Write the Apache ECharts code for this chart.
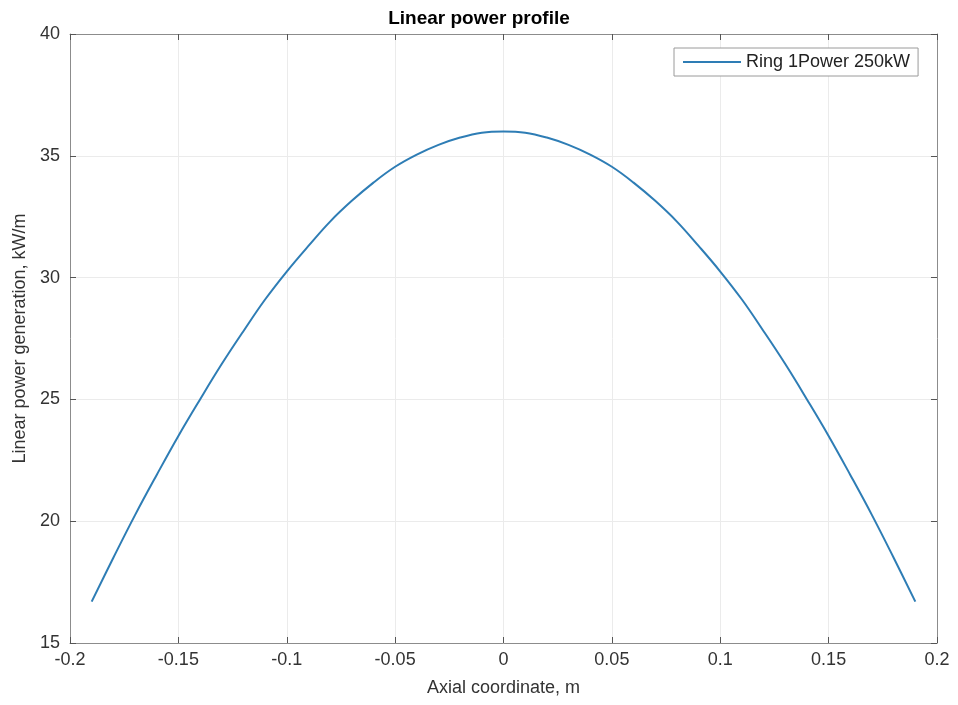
<!DOCTYPE html>
<html>
<head>
<meta charset="utf-8">
<title>Linear power profile</title>
<script src="https://cdn.jsdelivr.net/npm/echarts@6/dist/echarts.min.js"></script>
<style>
  html, body { margin: 0; padding: 0; background: #fff; }
  #chart { width: 958px; height: 705px; }
</style>
</head>
<body>
<div id="chart"></div>
<script>
// axial coordinate, m
var axialX = [-0.19, -0.18, -0.17, -0.16, -0.15, -0.14, -0.13, -0.12, -0.11, -0.10,
              -0.09, -0.08, -0.07, -0.06, -0.05, -0.04, -0.03, -0.02, -0.01, 0,
              0.01, 0.02, 0.03, 0.04, 0.05, 0.06, 0.07, 0.08, 0.09, 0.10,
              0.11, 0.12, 0.13, 0.14, 0.15, 0.16, 0.17, 0.18, 0.19];
// linear power, kW/m
var linearPower = [16.7, 18.5, 20.25, 21.9, 23.5, 25.0, 26.45, 27.8, 29.1, 30.25,
                   31.3, 32.3, 33.15, 33.9, 34.55, 35.05, 35.45, 35.75, 35.95, 36.0,
                   35.95, 35.75, 35.45, 35.05, 34.55, 33.9, 33.15, 32.3, 31.3, 30.25,
                   29.1, 27.8, 26.45, 25.0, 23.5, 21.9, 20.25, 18.5, 16.7];
var seriesName = 'Ring 1Power 250kW';

var chart = echarts.init(document.getElementById('chart'));

var axisGray = '#8c8c8c';
var gridGray = '#ebebeb';
var font = 'Liberation Sans, Arial, Helvetica, sans-serif';

var pts = axialX.map(function (x, i) { return [x, linearPower[i]]; });

var option = {
  backgroundColor: '#fff',
  animation: false,
  title: {
    text: 'Linear power profile',
    left: 'center',
    top: 4,
    textStyle: { fontFamily: font, fontSize: 19, fontWeight: 'bold', color: '#000' }
  },
  legend: {
    data: [{ name: seriesName, icon: 'rect' }],
    left: 674,
    top: 48,
    padding: [5, 8, 5, 9],
    itemWidth: 58,
    itemHeight: 2,
    borderColor: '#9a9a9a',
    borderWidth: 1,
    backgroundColor: '#fff',
    textStyle: { fontFamily: font, fontSize: 18, color: '#222' }
  },
  grid: { left: 70, top: 34, right: 21, bottom: 62, containLabel: false },
  xAxis: [{
    type: 'value',
    min: -0.2, max: 0.2, interval: 0.05,
    name: 'Axial coordinate, m',
    nameLocation: 'middle',
    nameGap: 36,
    nameTextStyle: { fontFamily: font, fontSize: 18, color: '#333' },
    axisLine: { onZero: false, lineStyle: { color: axisGray } },
    axisTick: { inside: true, length: 6, lineStyle: { color: '#555' } },
    axisLabel: { fontFamily: font, fontSize: 18, color: '#333', margin: 8 },
    splitLine: { show: true, lineStyle: { color: gridGray } }
  }, {
    type: 'value', position: 'top',
    min: -0.2, max: 0.2, interval: 0.05,
    axisLine: { onZero: false, lineStyle: { color: axisGray } },
    axisTick: { inside: true, length: 6, lineStyle: { color: '#555' } },
    axisLabel: { show: false },
    splitLine: { show: false }
  }],
  yAxis: [{
    type: 'value',
    min: 15, max: 40, interval: 5,
    name: 'Linear power generation, kW/m',
    nameLocation: 'middle',
    nameGap: 37,
    nameTextStyle: { fontFamily: font, fontSize: 18, color: '#333' },
    axisLine: { show: true, onZero: false, lineStyle: { color: axisGray } },
    axisTick: { show: true, inside: true, length: 6, lineStyle: { color: '#555' } },
    axisLabel: { fontFamily: font, fontSize: 18, color: '#333', margin: 10 },
    splitLine: { show: true, lineStyle: { color: gridGray } }
  }, {
    type: 'value', position: 'right',
    min: 15, max: 40, interval: 5,
    axisLine: { show: true, onZero: false, lineStyle: { color: axisGray } },
    axisTick: { show: true, inside: true, length: 6, lineStyle: { color: '#555' } },
    axisLabel: { show: false },
    splitLine: { show: false }
  }],
  series: [{
    name: seriesName,
    type: 'line',
    xAxisIndex: 0,
    yAxisIndex: 0,
    data: pts,
    smooth: 0.4,
    showSymbol: false,
    color: '#2e7db5',
    lineStyle: { width: 2, color: '#2e7db5' }
  }]
};

chart.setOption(option);
</script>
</body>
</html>
